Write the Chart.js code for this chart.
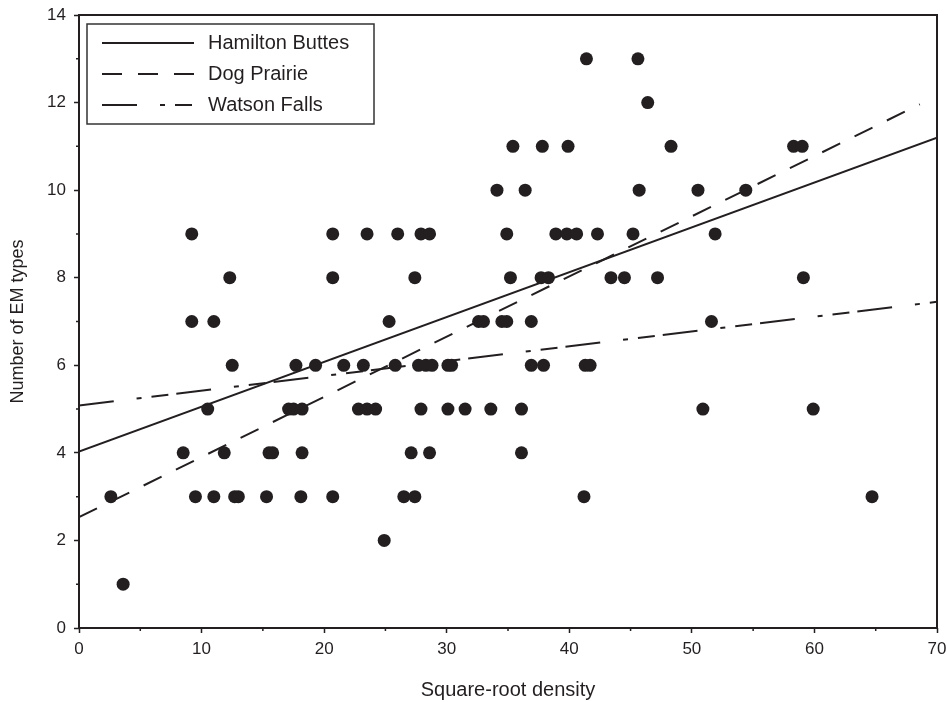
<!DOCTYPE html>
<html>
<head>
<meta charset="utf-8">
<title>EM types vs square-root density</title>
<script src="https://cdn.jsdelivr.net/npm/chart.js@4.4.1/dist/chart.umd.min.js"></script>
<style>
  html, body { margin: 0; padding: 0; background: #fff; }
</style>
</head>
<body>
<canvas id="chart" width="947" height="702"></canvas>
<script>
// one entry per plot: square-root density (x) and number of EM types (y)
const densityValues = [
  41.4, 45.6,
  46.4,
  35.4, 37.8, 39.9, 48.3, 58.3, 59.0,
  34.1, 36.4, 45.7, 50.5, 54.4,
  9.2, 20.7, 23.5, 26.0, 27.9, 28.6, 34.9, 38.9, 39.8, 40.6, 42.3, 45.2, 51.9,
  12.3, 20.7, 27.4, 35.2, 37.7, 38.3, 43.4, 44.5, 47.2, 59.1,
  9.2, 11.0, 25.3, 32.6, 33.0, 34.5, 34.9, 36.9, 51.6,
  12.5, 17.7, 19.3, 21.6, 23.2, 25.8, 27.7, 28.3, 28.8, 30.1, 30.4, 36.9, 37.9, 41.3, 41.7,
  10.5, 17.1, 17.5, 18.2, 22.8, 23.5, 24.2, 27.9, 30.1, 31.5, 33.6, 36.1, 50.9, 59.9,
  8.5, 11.85, 15.5, 15.8, 18.2, 27.1, 28.6, 36.1,
  2.6, 9.5, 11.0, 12.7, 13.0, 15.3, 18.1, 20.7, 26.5, 27.4, 41.2, 64.7,
  24.9,
  3.6
]
const emTypeCounts = [
  13, 13,
  12,
  11, 11, 11, 11, 11, 11,
  10, 10, 10, 10, 10,
  9, 9, 9, 9, 9, 9, 9, 9, 9, 9, 9, 9, 9,
  8, 8, 8, 8, 8, 8, 8, 8, 8, 8,
  7, 7, 7, 7, 7, 7, 7, 7, 7,
  6, 6, 6, 6, 6, 6, 6, 6, 6, 6, 6, 6, 6, 6, 6,
  5, 5, 5, 5, 5, 5, 5, 5, 5, 5, 5, 5, 5, 5,
  4, 4, 4, 4, 4, 4, 4, 4,
  3, 3, 3, 3, 3, 3, 3, 3, 3, 3, 3, 3,
  2,
  1
]

// fitted lines, one per site
const siteNames = ['Hamilton Buttes', 'Dog Prairie', 'Watson Falls']
const fitStartX = [0, 0, 0]
const fitStartY = [4.03, 2.53, 5.08]
const fitEndX = [70, 68.6, 70]
const fitEndY = [11.2, 11.96, 7.45]
const siteDashes = [[], [20, 16], [35, 23, 5, 10, 17, 8]]

const xTickValues = [0, 10, 20, 30, 40, 50, 60, 70]
const yTickValues = [0, 2, 4, 6, 8, 10, 12, 14]

const ink = '#231f20'
const fontFamily = '"Liberation Sans", Arial, Helvetica, sans-serif'

const points = densityValues.map((x, i) => ({ x, y: emTypeCounts[i] }))

const fitDatasets = siteNames.map((name, i) => ({
  type: 'line',
  label: name,
  data: [{ x: fitStartX[i], y: fitStartY[i] }, { x: fitEndX[i], y: fitEndY[i] }],
  borderColor: ink,
  borderWidth: 2,
  borderDash: siteDashes[i],
  pointRadius: 0,
  fill: false,
  tension: 0
}))

// frame round the plot, small minor ticks and the boxed legend
const decorations = {
  id: 'decorations',
  afterDatasetsDraw (chart) {
    const { ctx, chartArea: area, scales } = chart
    ctx.save()

    ctx.strokeStyle = ink
    ctx.lineWidth = 2
    ctx.strokeRect(area.left, area.top, area.right - area.left, area.bottom - area.top)

    ctx.lineWidth = 1.5
    ctx.beginPath()
    for (let v = 1; v < 14; v += 2) {
      const py = scales.y.getPixelForValue(v)
      ctx.moveTo(area.left - 3, py)
      ctx.lineTo(area.left + 1, py)
    }
    for (let v = 5; v < 70; v += 10) {
      const px = scales.x.getPixelForValue(v)
      ctx.moveTo(px, area.bottom - 1)
      ctx.lineTo(px, area.bottom + 3)
    }
    ctx.stroke()

    // legend box
    const boxX = area.left + 8
    const boxY = area.top + 9
    const boxW = 287
    const boxH = 100
    ctx.fillStyle = '#fff'
    ctx.fillRect(boxX, boxY, boxW, boxH)
    ctx.lineWidth = 1.5
    ctx.strokeStyle = '#333'
    ctx.strokeRect(boxX, boxY, boxW, boxH)

    const rowOffsets = [19, 50, 81]
    ctx.font = '20px ' + fontFamily
    ctx.textBaseline = 'middle'
    ctx.textAlign = 'left'
    siteNames.forEach((name, i) => {
      const ry = boxY + rowOffsets[i]
      ctx.strokeStyle = ink
      ctx.lineWidth = 2
      ctx.setLineDash(siteDashes[i])
      ctx.beginPath()
      ctx.moveTo(boxX + 15, ry)
      ctx.lineTo(boxX + 107, ry)
      ctx.stroke()
      ctx.setLineDash([])
      ctx.fillStyle = ink
      ctx.fillText(name, boxX + 121, ry)
    })

    ctx.restore()
  }
}

new Chart(document.getElementById('chart'), {
  type: 'scatter',
  data: {
    datasets: [
      {
        label: 'Plots',
        data: points,
        pointRadius: 6.5,
        pointBackgroundColor: ink,
        pointBorderWidth: 0,
        showLine: false
      },
      ...fitDatasets
    ]
  },
  options: {
    responsive: false,
    animation: false,
    layout: { padding: { top: 15, right: 10, left: 0, bottom: 0 } },
    plugins: {
      legend: { display: false },
      tooltip: { enabled: false }
    },
    scales: {
      x: {
        type: 'linear',
        min: 0,
        max: 70,
        afterFit (scale) {
          scale.height = 74
          scale.paddingLeft = 0
          scale.paddingRight = 0
        },
        afterBuildTicks (scale) { scale.ticks = xTickValues.map(v => ({ value: v })) },
        ticks: { color: ink, padding: 6, font: { family: fontFamily, size: 17 } },
        grid: { drawOnChartArea: false, tickLength: 5, tickColor: ink, tickWidth: 1.5 },
        border: { display: false },
        title: {
          display: true,
          text: 'Square-root density',
          color: ink,
          font: { family: fontFamily, size: 20 },
          padding: { top: 0, bottom: 0 }
        }
      },
      y: {
        type: 'linear',
        min: 0,
        max: 14,
        afterFit (scale) {
          scale.width = 79
          scale.paddingTop = 0
          scale.paddingBottom = 0
        },
        afterBuildTicks (scale) { scale.ticks = yTickValues.map(v => ({ value: v })) },
        ticks: { color: ink, padding: 8, font: { family: fontFamily, size: 17 } },
        grid: { drawOnChartArea: false, tickLength: 5, tickColor: ink, tickWidth: 1.5 },
        border: { display: false },
        title: {
          display: true,
          text: 'Number of EM types',
          color: ink,
          font: { family: fontFamily, size: 18 },
          padding: { top: 7, bottom: 0 }
        }
      }
    }
  },
  plugins: [decorations]
})
</script>
</body>
</html>
